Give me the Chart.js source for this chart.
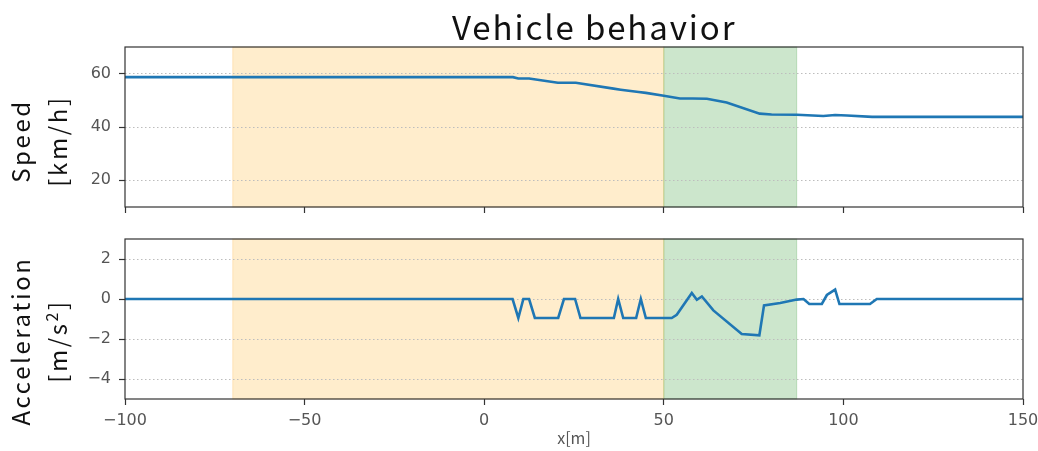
<!DOCTYPE html>
<html>
<head>
<meta charset="utf-8">
<script src="https://cdn.jsdelivr.net/npm/chart.js@4/dist/chart.umd.min.js"></script>
<style>
  html, body { margin: 0; padding: 0; background: #fff; }
  #wrap { position: relative; width: 1038px; height: 451px; overflow: hidden; }
  canvas { position: absolute; left: 0; }
  #speedCanvas { top: 0; }
  #accelCanvas { top: 225px; }
  .title {
    position: absolute; left: 452px; top: 4px;
    font-family: "Noto Sans CJK JP", "Noto Sans", sans-serif;
    font-size: 33px; line-height: 44px; color: #111; letter-spacing: 1.9px;
    white-space: nowrap;
  }
  .ylab {
    position: absolute; width: 260px; text-align: center;
    font-family: "Noto Sans CJK JP", "Noto Sans", sans-serif;
    font-size: 24px; line-height: 37px; color: #111; letter-spacing: 2.6px;
    transform: translate(-50%, -50%) rotate(-90deg);
    white-space: nowrap;
  }
  .ylab sup { font-size: 16px; vertical-align: 9px; line-height: 0; }
</style>
</head>
<body>
<div id="wrap">
  <canvas id="speedCanvas" width="1038" height="225"></canvas>
  <canvas id="accelCanvas" width="1038" height="226"></canvas>
  <div class="title">Vehicle behavior</div>
  <div class="ylab" style="left:38px; top:141px;">Speed<br>[km/h]</div>
  <div class="ylab" style="left:38px; top:341px;">Acceleration<br>[m/s<sup>2</sup>]</div>
</div>
<script>
// Position along the road [m]
const xTicks = [-100, -50, 0, 50, 100, 150];

// Speed profile [km/h]
const speedX = [-100, 8, 9.5, 12.5, 20.5, 25.5, 36, 38, 43, 45, 50, 54.5, 58, 62, 67.5, 76.7, 80, 87, 90, 94.4, 97.7, 101, 108, 150];
const speedY = [58.7, 58.7, 58.2, 58.2, 56.6, 56.6, 54.4, 54.0, 53.1, 52.8, 51.7, 50.7, 50.7, 50.6, 49.2, 45.0, 44.7, 44.6, 44.4, 44.1, 44.5, 44.3, 43.8, 43.8];
const speedTicks = [20, 40, 60];

// Acceleration profile [m/s^2]
const accelX = [-100, 7.9, 9.5, 10.9, 12.5, 14.1, 20.6, 22.2, 25.3, 26.8, 36.1, 37.3, 38.7, 42.3, 43.6, 45.0, 52.2, 53.6, 57.8, 59.2, 60.6, 63.8, 71.7, 76.6, 77.9, 82.4, 87.0, 88.9, 90.5, 94.0, 95.4, 97.7, 98.9, 107.4, 109.3, 150];
const accelY = [0, 0, -0.95, 0, 0, -0.95, -0.95, 0, 0, -0.95, -0.95, 0, -0.95, -0.95, 0, -0.95, -0.95, -0.79, 0.3, -0.04, 0.13, -0.57, -1.75, -1.82, -0.32, -0.2, -0.03, 0.0, -0.25, -0.25, 0.2, 0.47, -0.25, -0.25, 0.0, 0.0];
const accelTicks = [-4, -2, 0, 2];

// Highlighted road sections [m]
const approachZone = [-70, 50];
const passZone = [50, 87];

const LINE_BLUE = '#1f77b4';
const TICK_FONT = { family: "'DejaVu Sans'", size: 16 };
const TICK_COLOR = '#555';
const SPINE = '#333';

const toPoints = (xs, ys) => xs.map((x, i) => ({ x: x, y: ys[i] }));
const minusSign = v => String(v).replace('-', '\u2212');

// Shaded sections behind the grid, plus a full frame around the plot
const zonesPlugin = {
  id: 'zones',
  beforeDraw(chart) {
    const { ctx, chartArea: a, scales: { x } } = chart;
    const band = (r, fill) => {
      const x0 = x.getPixelForValue(r[0]);
      const x1 = x.getPixelForValue(r[1]);
      ctx.save();
      ctx.fillStyle = fill;
      ctx.strokeStyle = fill;
      ctx.lineWidth = 1;
      ctx.fillRect(x0, a.top, x1 - x0, a.bottom - a.top);
      ctx.strokeRect(x0, a.top, x1 - x0, a.bottom - a.top);
      ctx.restore();
    };
    band(approachZone, 'rgba(255,165,0,0.2)');
    band(passZone, 'rgba(0,128,0,0.2)');
  },
  afterDraw(chart) {
    const { ctx, chartArea: a } = chart;
    ctx.save();
    ctx.strokeStyle = SPINE;
    ctx.lineWidth = 1.2;
    ctx.strokeRect(a.left, a.top, a.right - a.left, a.bottom - a.top);
    ctx.restore();
  }
};

function makeChart(canvasId, xs, ys, yMin, yMax, yTicks, opts) {
  return new Chart(document.getElementById(canvasId), {
    type: 'line',
    data: {
      datasets: [{
        data: toPoints(xs, ys),
        borderColor: LINE_BLUE,
        borderWidth: 2.6,
        pointRadius: 0,
        tension: 0,
        fill: false
      }]
    },
    options: {
      responsive: false,
      animation: false,
      devicePixelRatio: 1,
      parsing: false,
      layout: { padding: { top: opts.top, right: 15, left: 0, bottom: 0 } },
      plugins: { legend: { display: false }, tooltip: { enabled: false }, title: { display: false } },
      scales: {
        x: {
          type: 'linear',
          min: -100, max: 150,
          afterBuildTicks: s => { s.ticks = xTicks.map(v => ({ value: v })); },
          afterFit: s => { s.height = opts.xHeight; s.paddingLeft = 0; s.paddingRight = 0; },
          grid: { drawOnChartArea: false, drawTicks: true, tickLength: 6, tickColor: SPINE, tickWidth: 1.2 },
          border: { display: false },
          ticks: {
            display: opts.xLabels,
            font: TICK_FONT, color: TICK_COLOR, padding: 6,
            maxRotation: 0, autoSkip: false,
            callback: v => minusSign(v)
          },
          title: {
            display: opts.xLabels,
            text: 'x[m]',
            font: { family: "'Noto Sans CJK JP'", size: 16 },
            color: '#555',
            padding: { top: 0, bottom: 3 }
          }
        },
        y: {
          type: 'linear',
          min: yMin, max: yMax,
          afterBuildTicks: s => { s.ticks = yTicks.map(v => ({ value: v })); },
          afterFit: s => { s.width = 125; s.paddingTop = 0; s.paddingBottom = 0; },
          grid: {
            color: '#bdbdbd', lineWidth: 1,
            drawTicks: true, tickLength: 6, tickColor: SPINE, tickWidth: 1.2, tickBorderDash: []
          },
          border: { display: false, dash: [1.5, 2.5] },
          ticks: {
            font: TICK_FONT, color: TICK_COLOR, padding: 8,
            callback: v => minusSign(v)
          }
        }
      }
    },
    plugins: [zonesPlugin]
  });
}

makeChart('speedCanvas', speedX, speedY, 10, 70, speedTicks, { top: 47, xHeight: 18, xLabels: false });
makeChart('accelCanvas', accelX, accelY, -5, 3, accelTicks, { top: 14, xHeight: 52, xLabels: true });
</script>
</body>
</html>
